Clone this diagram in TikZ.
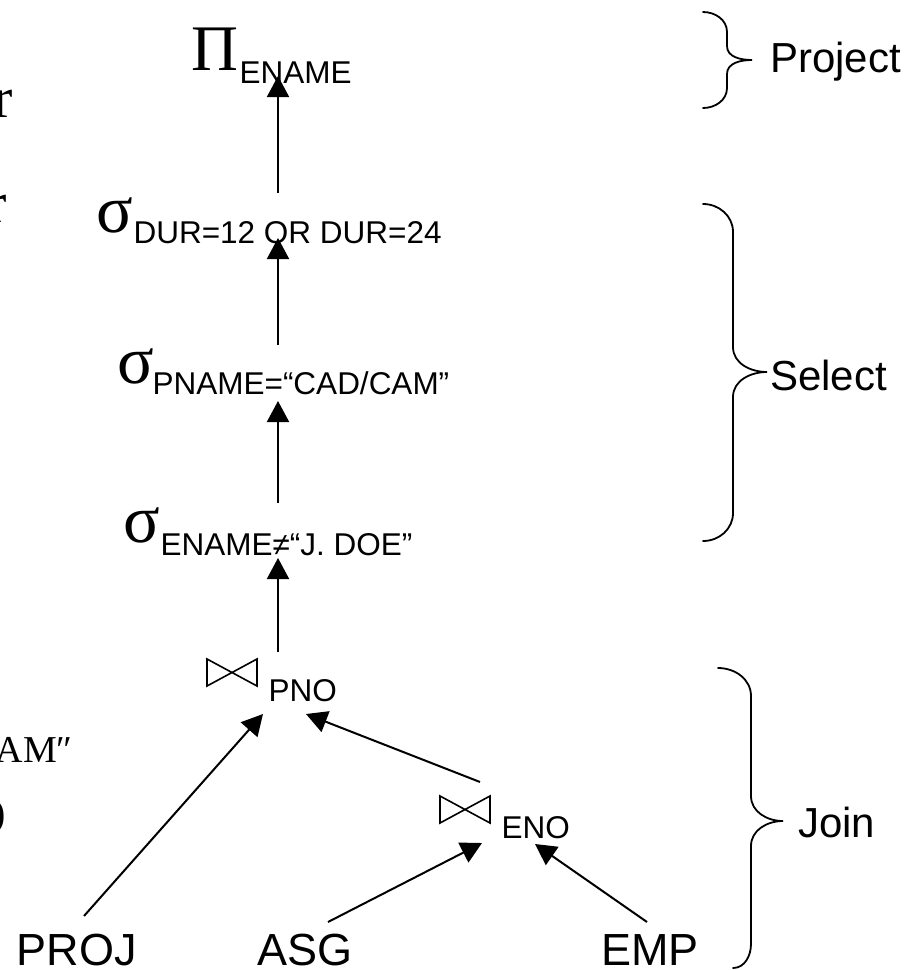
\documentclass[tikz,border=0pt]{standalone}
\usepackage{fontspec}
\setmainfont{Liberation Sans}
\newfontfamily\serifx{Liberation Serif}
\usetikzlibrary{arrows.meta}
\newcommand\fsz[1]{\fontsize{#1}{#1}\selectfont}
\newcommand\opsym[4]{{\serifx\fsz{#1}\makebox[#2pt][l]{#3}}#4}
\begin{document}
\begin{tikzpicture}[x=1pt,y=-1pt,
  txt/.style={inner sep=0pt, outer sep=0pt, anchor=base west},
  sub/.style={font=\fsz{31.5}},
  big/.style={font=\fsz{45}},
  lab/.style={font=\fsz{42}},
  frag/.style={inner sep=0pt, anchor=base east, font=\serifx},
  arr/.style={line width=2pt, -{Triangle[width=22pt,length=21pt]}},
  brace/.style={line width=1.8pt, line cap=round},
  joinsym/.pic={\draw[line width=1.6pt, line join=miter] (-25,-13.5) -- (25,13.5) -- (25,-13.5) -- (-25,13.5) -- cycle;}]
\path[use as bounding box, fill=white] (0,0) rectangle (920,970);

% clipped fragments at the left edge
\node[frag, font=\serifx\fsz{58}] (f1) at (13,117) {r};
\node[frag, font=\serifx\fsz{58}] (f2) at (7,222) {r};
\node[frag, font=\serifx\fsz{38}] (f3) at (73,762) {AM″};
\node[frag, font=\serifx\fsz{40}] (f4) at (6,826) {)};

% operator nodes
\node[txt] (pi) at (191,70) {\opsym{65}{48.6}{Π}{\fsz{31.5}\raisebox{-13pt}{ENAME}}};
\node[txt] (dur) at (96,232) {\opsym{68}{37.6}{σ}{\fsz{31.5}\raisebox{-11pt}{DUR=12 OR DUR=24}}};
\node[txt] (pname) at (117,383) {\opsym{68}{35.6}{σ}{\fsz{31.5}\raisebox{-11pt}{PNAME=“CAD/CAM”}}};
\node[txt] (ename) at (123,542) {\opsym{68}{37.6}{σ}{\fsz{31.5}\raisebox{-13pt}{ENAME≠“J. DOE”}}};

% joins
\pic at (232,672.5) {joinsym};
\node[txt, sub] (pno) at (268.6,701) {PNO};
\pic at (465,809.5) {joinsym};
\node[txt, sub] (eno) at (501.6,838) {ENO};

% relations
\node[txt, big] (proj) at (16.5,965) {PROJ};
\node[txt, big] (asg) at (257,965) {ASG};
\node[txt, big] (emp) at (601,965) {EMP};

% ports
\coordinate (pi-in) at (278,76);
\coordinate (dur-out) at (278,193);
\coordinate (dur-in) at (278,238);
\coordinate (pname-out) at (278,345);
\coordinate (pname-in) at (278,401);
\coordinate (ename-out) at (278,503);
\coordinate (ename-in) at (278,558);
\coordinate (pno-out) at (278,652);
\coordinate (pno-inl) at (263,714);
\coordinate (pno-inr) at (306,714);
\coordinate (proj-out) at (84,916);
\coordinate (eno-out) at (480,782);
\coordinate (eno-inl) at (482,843);
\coordinate (eno-inr) at (535,844);
\coordinate (asg-out) at (328,922);
\coordinate (emp-out) at (647,922);

\draw[arr] (dur-out) -- (pi-in);
\draw[arr] (pname-out) -- (dur-in);
\draw[arr] (ename-out) -- (pname-in);
\draw[arr] (pno-out) -- (ename-in);
\draw[arr] (proj-out) -- (pno-inl);
\draw[arr] (eno-out) -- (pno-inr);
\draw[arr] (asg-out) -- (eno-inl);
\draw[arr] (emp-out) -- (eno-inr);

% braces
\draw[brace] (703,12) to[out=0,in=90] (727,32) -- (727,46) to[out=-90,in=180] (752,60)
  to[out=180,in=90] (727,74) -- (727,88) to[out=-90,in=0] (703,108);
\draw[brace] (703,204) to[out=0,in=90] (733,232) -- (733,347) to[out=-90,in=180] (767,372)
  to[out=180,in=90] (733,397) -- (733,513) to[out=-90,in=0] (703,541);
\draw[brace] (718,668) to[out=0,in=90] (751,696) -- (751,796) to[out=-90,in=180] (783,821)
  to[out=180,in=90] (751,846) -- (751,944) to[out=-90,in=0] (733,968);

\node[txt, lab] (project) at (770,72) {Project};
\node[txt, lab] (select) at (770,390) {Select};
\node[txt, lab] (join) at (798,837) {Join};
\end{tikzpicture}
\end{document}
